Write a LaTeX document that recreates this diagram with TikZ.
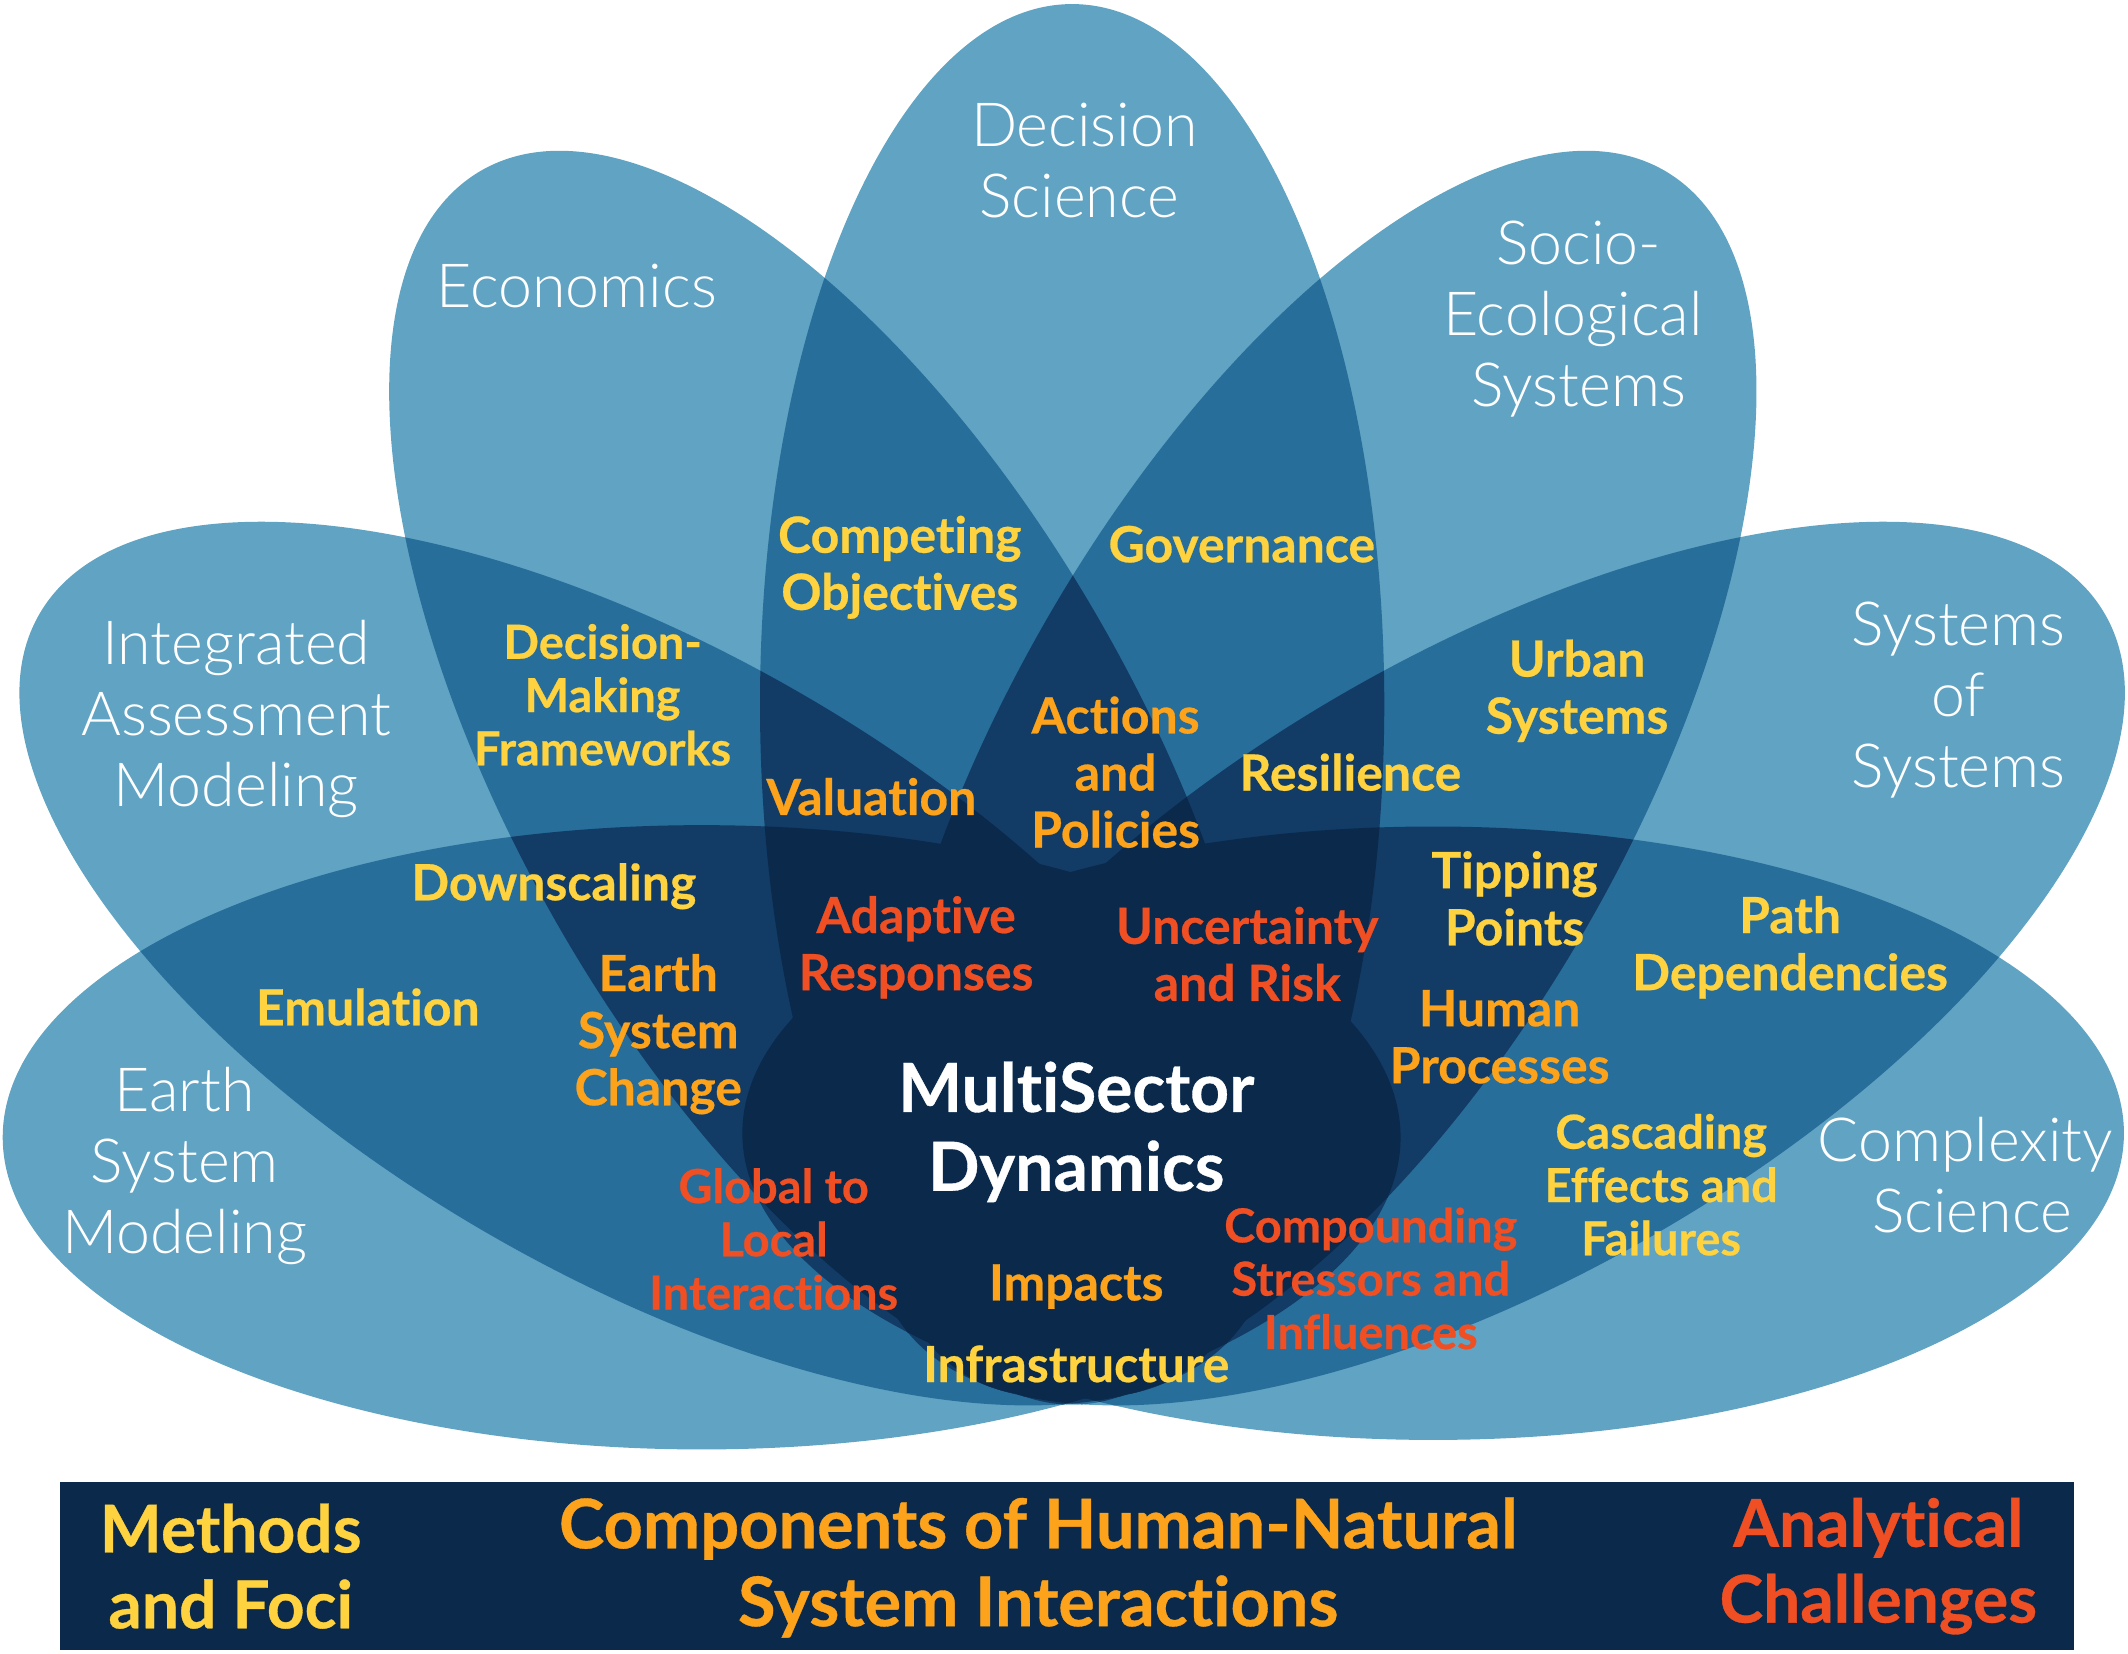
\documentclass[tikz,border=0pt]{standalone}
\usepackage{fontspec}
\setmainfont{Lato}
\newfontfamily\lightf{Lato Light}[Ligatures=NoCommon]
\newfontfamily\heavyf{Lato}[UprightFont=* Bold,Ligatures=NoCommon,FakeBold=0.5]
\definecolor{lvA}{HTML}{60A3C3}
\definecolor{lvB}{HTML}{286E9A}
\definecolor{lvC}{HTML}{123C66}
\definecolor{lvD}{HTML}{0A294B}
\definecolor{ylw}{HTML}{FFD23F}
\definecolor{org}{HTML}{FCA31B}
\definecolor{rdd}{HTML}{F04E23}
\newcommand\petalpath[1]{%
  \ifcase#1\or
  [shift={(517,838)},rotate=90] (0,0) ellipse [x radius=230,y radius=515]\or
  [shift={(475,710)},rotate=60] (0,0) ellipse [x radius=230,y radius=515]\or
  [shift={(611,570)},rotate=30] (0,0) ellipse [x radius=229,y radius=513]\or
  [shift={(790,519)}] (0,0) ellipse [x radius=230,y radius=516]\or
  [shift={(970,570)},rotate=-30] (0,0) ellipse [x radius=229,y radius=513]\or
  [shift={(1105,710)},rotate=-60] (0,0) ellipse [x radius=230,y radius=515]\or
  [shift={(1056,835)},rotate=-90] (0,0) ellipse [x radius=226,y radius=509]\fi}
\tikzset{
  petaltext/.style={text=white,align=center,inner sep=0pt,font=\lightf\fontsize{30.5}{35.6}\selectfont},
  lab/.style={align=center,inner sep=0pt,font=\heavyf\fontsize{25}{28.6}\selectfont},
  labs/.style={align=center,inner sep=0pt,font=\heavyf\fontsize{23.5}{26.7}\selectfont},
  bandt/.style={align=center,inner sep=0pt,font=\heavyf\fontsize{33}{38}\selectfont},
  bandc/.style={align=center,inner sep=0pt,font=\heavyf\fontsize{34.3}{39}\selectfont},
}
\begin{document}
\begin{tikzpicture}[x=0.68pt,y=-0.68pt]
\useasboundingbox (0,0) rectangle (1568,1218.7);
\foreach \i in {1,...,7}{\fill[lvA] \petalpath{\i};}
\foreach \i in {1,...,7}{\foreach \j in {1,...,7}{\ifnum\i<\j
  \begin{scope}\clip \petalpath{\i};\fill[lvB] \petalpath{\j};\end{scope}\fi}}
\foreach \i in {1,...,7}{\foreach \j in {1,...,7}{\foreach \k in {1,...,7}{\ifnum\i<\j\ifnum\j<\k
  \begin{scope}\clip \petalpath{\i};\clip \petalpath{\j};\fill[lvC] \petalpath{\k};\end{scope}\fi\fi}}}
\foreach \i in {1,...,7}{\foreach \j in {1,...,7}{\foreach \k in {1,...,7}{\foreach \l in {1,...,7}{\ifnum\i<\j\ifnum\j<\k\ifnum\k<\l
  \begin{scope}\clip \petalpath{\i};\clip \petalpath{\j};\clip \petalpath{\k};\fill[lvD] \petalpath{\l};\end{scope}\fi\fi\fi}}}}
\fill[lvD] (44,1092) rectangle (1528,1216);
% petal names
\node[petaltext] (decsci) at (799,118) {Decision\\Science\kern5pt};
\node[petaltext] (econ) at (425,211) {Economics};
\node[petaltext] (socio) at (1159,235) {\kern6pt Socio-\\Ecological\\\kern6pt Systems};
\node[petaltext] (iam) at (174,530) {Integrated\\Assessment\\Modeling};
\node[petaltext] (sos) at (1443,516) {Systems\\of\\Systems};
\node[petaltext] (esm) at (136,859) {Earth\\System\\Modeling};
\node[petaltext] (cplx) at (1448,866) {Complexity\\\kern7pt Science};
% methods
\node[lab,text=ylw] (compobj) at (663,418) {Competing\\Objectives};
\node[lab,text=ylw] (gov) at (915,401) {Governance};
\node[labs,text=ylw] (dmf) at (444,512) {Decision-\\Making\\Frameworks};
\node[lab,text=ylw] (urban) at (1162,509) {Urban\\Systems};
\node[lab,text=ylw] (resil) at (995,569) {Resilience};
\node[lab,text=ylw] (down) at (408,653) {Downscaling};
\node[lab,text=ylw] (emu) at (271,742) {Emulation};
\node[lab,text=ylw] (tip) at (1116,662) {Tipping\\Points};
\node[lab,text=ylw] (path) at (1319,698) {Path\\Dependencies};
\node[labs,text=ylw] (casc) at (1224,873) {Cascading\\Effects and\\Failures};
\node[lab,text=ylw] (infra) at (793,1005) {Infrastructure};
% components
\node[lab,text=org] (act) at (822,569) {Actions\\and\\Policies};
\node[lab,text=org] (val) at (642,587) {Valuation};
\node[lab,text=org] (esc) at (485,762) {Earth\\System\\Change};
\node[lab,text=org] (hum) at (1105,764) {Human\\Processes};
\node[lab,text=org] (imp) at (793,948) {Impacts};
% challenges
\node[lab,text=rdd] (adapt) at (675,698) {Adaptive\\Responses};
\node[lab,text=rdd] (unc) at (919,703) {Uncertainty\\and Risk};
\node[labs,text=rdd] (glob) at (570,913) {Global to\\Local\\Interactions};
\node[labs,text=rdd] (comp) at (1010,942) {Compounding\\Stressors and\\Influences};
% centre
\node[align=center,inner sep=0pt,text=white,font=\heavyf\fontsize{34}{39.5}\selectfont] (msd) at (793,834) {MultiSector\\Dynamics};
% band
\node[bandt,text=ylw] (bm) at (170,1154) {Methods\\and Foci};
\node[bandc,text=org] (bc) at (765,1155) {Components of Human-Natural\\System Interactions};
\node[bandt,text=rdd] (ba) at (1384,1154) {Analytical\\Challenges};
\end{tikzpicture}
\end{document}
